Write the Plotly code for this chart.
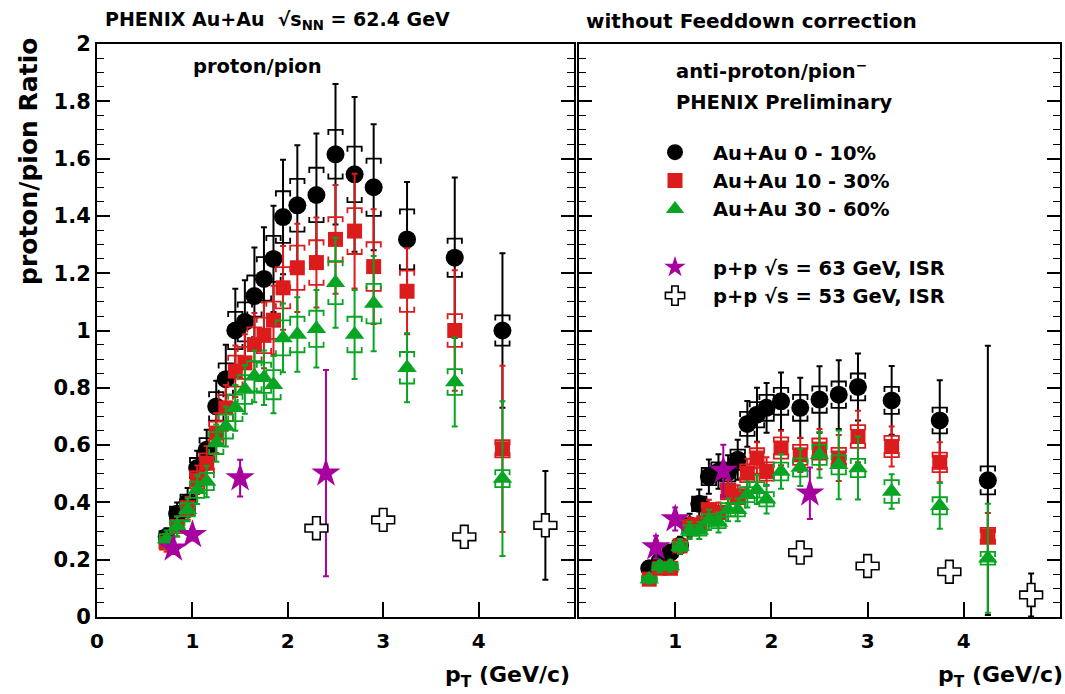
import numpy as np
import plotly.graph_objects as go

FONT = "DejaVu Sans"
BLACK = "#000000"
RED = "#dc1c1c"
GREEN = "#08a522"
MAGENTA = "#a8009f"

# ---------------- data ----------------
X_AU = [0.73, 0.84, 0.95, 1.05, 1.15, 1.25, 1.35, 1.45, 1.55, 1.65, 1.75,
        1.85, 1.95, 2.1, 2.3, 2.5, 2.7, 2.9, 3.25, 3.75, 4.25]

# proton/pion+ (left)
P_C0_Y = [0.28, 0.36, 0.40, 0.52, 0.584, 0.735, 0.83, 1.00, 1.03, 1.12, 1.18,
          1.25, 1.396, 1.437, 1.473, 1.615, 1.545, 1.50, 1.318, 1.254, 1.00]
P_C0_STAT = [0.03, 0.04, 0.05, 0.06, 0.07, 0.09, 0.12, 0.146, 0.145, 0.17, 0.18,
             0.185, 0.20, 0.21, 0.215, 0.245, 0.27, 0.22, 0.20, 0.28, 0.27]
P_C0_SYS = [0.02, 0.025, 0.027, 0.035, 0.04, 0.05, 0.055, 0.065, 0.068, 0.072, 0.076,
            0.08, 0.09, 0.092, 0.095, 0.085, 0.097, 0.10, 0.105, 0.067, 0.053]

P_C1_Y = [0.258, 0.316, 0.38, 0.479, 0.537, 0.642, 0.73, 0.858, 0.887, 0.951, 0.983,
          1.036, 1.149, 1.219, 1.237, 1.318, 1.347, 1.223, 1.137, 1.00, 0.587]
P_C1_STAT = [0.03, 0.035, 0.04, 0.05, 0.06, 0.07, 0.08, 0.09, 0.10, 0.11, 0.115,
             0.12, 0.146, 0.154, 0.157, 0.19, 0.20, 0.20, 0.15, 0.21, 0.29]
P_C1_SYS = [0.018, 0.02, 0.024, 0.03, 0.034, 0.04, 0.046, 0.054, 0.056, 0.06, 0.062,
            0.065, 0.072, 0.077, 0.078, 0.078, 0.08, 0.085, 0.072, 0.057, 0.03]

P_C2_Y = [0.272, 0.316, 0.374, 0.444, 0.473, 0.607, 0.665, 0.73, 0.794, 0.84, 0.835,
          0.811, 0.974, 0.986, 1.006, 1.167, 0.986, 1.094, 0.87, 0.82, 0.483]
P_C2_STAT = [0.03, 0.035, 0.04, 0.05, 0.055, 0.065, 0.07, 0.08, 0.085, 0.09, 0.095,
             0.10, 0.12, 0.13, 0.135, 0.157, 0.155, 0.166, 0.12, 0.155, 0.27]
P_C2_SYS = [0.017, 0.02, 0.023, 0.028, 0.03, 0.038, 0.042, 0.046, 0.05, 0.053, 0.053,
            0.051, 0.061, 0.062, 0.063, 0.075, 0.062, 0.069, 0.055, 0.045, 0.03]

# anti-proton/pion- (right)
A_C0_Y = [0.17, 0.195, 0.225, 0.25, 0.32, 0.395, 0.49, 0.508, 0.505, 0.549, 0.674,
          0.706, 0.73, 0.753, 0.73, 0.759, 0.776, 0.803, 0.756, 0.686, 0.477]
A_C0_STAT = [0.02, 0.02, 0.025, 0.03, 0.04, 0.05, 0.06, 0.06, 0.06, 0.07, 0.08,
             0.094, 0.087, 0.10, 0.105, 0.116, 0.12, 0.117, 0.12, 0.14, 0.47]
A_C0_SYS = [0.01, 0.012, 0.014, 0.016, 0.02, 0.025, 0.03, 0.032, 0.032, 0.035, 0.042,
            0.044, 0.045, 0.047, 0.045, 0.046, 0.046, 0.047, 0.047, 0.045, 0.049]

A_C1_Y = [0.132, 0.17, 0.17, 0.248, 0.316, 0.322, 0.374, 0.365, 0.438, 0.42, 0.502,
          0.555, 0.508, 0.59, 0.566, 0.586, 0.555, 0.63, 0.595, 0.54, 0.283]
A_C1_STAT = [0.015, 0.02, 0.02, 0.025, 0.03, 0.03, 0.035, 0.035, 0.04, 0.04, 0.05,
             0.055, 0.05, 0.06, 0.06, 0.07, 0.08, 0.09, 0.07, 0.07, 0.08]
A_C1_SYS = [0.01, 0.012, 0.012, 0.016, 0.02, 0.02, 0.023, 0.023, 0.027, 0.026, 0.031,
            0.034, 0.032, 0.037, 0.035, 0.037, 0.035, 0.04, 0.037, 0.034, 0.028]

A_C2_Y = [0.132, 0.176, 0.178, 0.246, 0.302, 0.302, 0.339, 0.33, 0.374, 0.374, 0.427,
          0.444, 0.411, 0.508, 0.522, 0.566, 0.531, 0.52, 0.438, 0.388, 0.205]
A_C2_STAT = [0.015, 0.02, 0.02, 0.025, 0.03, 0.03, 0.035, 0.035, 0.04, 0.04, 0.045,
             0.05, 0.05, 0.06, 0.065, 0.08, 0.12, 0.11, 0.06, 0.08, 0.19]
A_C2_SYS = [0.01, 0.012, 0.012, 0.015, 0.018, 0.018, 0.02, 0.02, 0.023, 0.023, 0.026,
            0.027, 0.025, 0.031, 0.032, 0.035, 0.033, 0.032, 0.04, 0.03, 0.022]

X_PP63 = [0.8, 1.0, 1.5, 2.4]
P_PP63_Y = [0.24, 0.287, 0.485, 0.502]
P_PP63_ERR = [0.02, 0.02, 0.064, 0.36]
A_PP63_Y = [0.244, 0.342, 0.511, 0.432]
A_PP63_ERR = [0.04, 0.04, 0.09, 0.09]

X_PP53 = [2.3, 3.0, 3.85, 4.7]
P_PP53_Y = [0.31, 0.339, 0.28, 0.32]
P_PP53_ERR = [0.0, 0.0, 0.0, 0.19]
A_PP53_Y = [0.225, 0.178, 0.158, 0.077]
A_PP53_ERR = [0.0, 0.0, 0.0, 0.075]

LEG_NAMES = ["Au+Au 0 - 10%", "Au+Au 10 - 30%", "Au+Au 30 - 60%",
             "p+p √s = 63 GeV, ISR", "p+p √s = 53 GeV, ISR"]

# ---------------- figure ----------------
fig = go.Figure()


def brackets(x, y, s, dx=0.075, h=0.018):
    xs, ys = [], []
    for xi, yi, si in zip(x, y, s):
        top, bot = yi + si, yi - si
        xs += [xi - dx, xi - dx, xi + dx, xi + dx, None,
               xi - dx, xi - dx, xi + dx, xi + dx, None]
        ys += [top - h, top, top, top - h, None,
               bot + h, bot, bot, bot + h, None]
    return xs, ys


def add_series(x, y, stat, sys, color, symbol, size, name, group, xa, ya, legend,
               fill=None, lcolor=None, lwidth=0):
    if sys is not None:
        bx, by = brackets(x, y, sys)
        fig.add_trace(go.Scatter(x=bx, y=by, mode="lines", xaxis=xa, yaxis=ya,
                                 line=dict(color=color, width=1.8),
                                 showlegend=False, hoverinfo="skip"))
    fig.add_trace(go.Scatter(
        x=x, y=y, mode="markers", xaxis=xa, yaxis=ya, name=name,
        legendgroup=group, showlegend=legend,
        marker=dict(symbol=symbol, size=size, color=fill or color,
                    line=dict(color=lcolor or color, width=lwidth)),
        error_y=dict(type="data", array=stat, color=color if lcolor is None else lcolor,
                     thickness=2, width=3)))


for xa, ya, leg, data in [
    ("x", "y", True, [(P_C0_Y, P_C0_STAT, P_C0_SYS), (P_C1_Y, P_C1_STAT, P_C1_SYS),
                      (P_C2_Y, P_C2_STAT, P_C2_SYS), (P_PP63_Y, P_PP63_ERR),
                      (P_PP53_Y, P_PP53_ERR)]),
    ("x2", "y2", False, [(A_C0_Y, A_C0_STAT, A_C0_SYS), (A_C1_Y, A_C1_STAT, A_C1_SYS),
                         (A_C2_Y, A_C2_STAT, A_C2_SYS), (A_PP63_Y, A_PP63_ERR),
                         (A_PP53_Y, A_PP53_ERR)]),
]:
    add_series(X_AU, data[0][0], data[0][1], data[0][2], BLACK, "circle", 18,
               LEG_NAMES[0], "auau", xa, ya, leg)
    add_series(X_AU, data[1][0], data[1][1], data[1][2], RED, "square", 15,
               LEG_NAMES[1], "auau", xa, ya, leg)
    add_series(X_AU, data[2][0], data[2][1], data[2][2], GREEN, "triangle-up", 17,
               LEG_NAMES[2], "auau", xa, ya, leg)
    add_series(X_PP63, data[3][0], data[3][1], None, MAGENTA, "star", 22,
               LEG_NAMES[3], "pp", xa, ya, leg)
    add_series(X_PP53, data[4][0], data[4][1], None, BLACK, "cross", 19,
               LEG_NAMES[4], "pp", xa, ya, leg, fill="white", lcolor=BLACK, lwidth=1.6)

W, H = 1065, 694
XL = [97 / W, 574 / W]
XR = [579 / W, 1060 / W]
YD = [1 - 617 / H, 1 - 44 / H]

xtickfont = dict(family=FONT, size=20, color="black", weight="bold")
ytickfont = dict(family=FONT, size=21, color="black", weight="bold")
xcommon = dict(range=[0, 5], ticks="inside", ticklen=15, tickwidth=1.5,
               tickcolor="black", showline=True, linewidth=2, linecolor="black",
               mirror=True, showgrid=False, zeroline=False, tickfont=xtickfont,
               ticklabelstandoff=5, automargin=False)
ycommon = dict(range=[0, 2], dtick=0.2, tick0=0, ticks="inside", ticklen=13,
               tickwidth=1.5, tickcolor="black", showline=True, linewidth=2,
               linecolor="black", mirror="ticks", showgrid=False, zeroline=False,
               tickfont=ytickfont, ticklabelstandoff=0, automargin=False,
               minor=dict(ticks="inside", ticklen=7, dtick=0.05, tickwidth=1.2,
                          tickcolor="black", showgrid=False))

fig.update_layout(
    width=W, height=H, margin=dict(l=0, r=0, t=0, b=0, autoexpand=False),
    paper_bgcolor="white", plot_bgcolor="white",
    xaxis=dict(domain=XL, anchor="y", tickvals=[0, 1, 2, 3, 4], **xcommon),
    xaxis2=dict(domain=XR, anchor="y2", tickvals=[1, 2, 3, 4, 5], **xcommon),
    yaxis=dict(domain=YD, anchor="x", **ycommon),
    yaxis2=dict(domain=YD, anchor="x2", showticklabels=False, **ycommon),
    legend=dict(x=637 / W, y=1 - 133 / H, xanchor="left", yanchor="top",
                font=dict(family=FONT, size=19.5, color="black", weight="bold"),
                bgcolor="rgba(0,0,0,0)", traceorder="grouped", tracegroupgap=30,
                itemwidth=66),
    showlegend=True,
)


def ann(text, x, y, size, xanchor="left", angle=0):
    fig.add_annotation(text=text, x=x / W, y=1 - y / H, xref="paper", yref="paper",
                       showarrow=False, xanchor=xanchor, yanchor="middle",
                       textangle=angle,
                       font=dict(family=FONT, size=size, color="black", weight="bold"))


ann("PHENIX Au+Au\u00a0\u00a0√s<sub>NN</sub> = 62.4 GeV", 103, 21, 19)
ann("without Feeddown correction", 584, 21, 20)
ann("proton/pion", 191, 66, 19.5)
ann("anti-proton/pion<sup>−</sup>", 674, 70, 19.5)
ann("PHENIX Preliminary", 674, 102, 19.5)
ann("proton/pion Ratio", 28, 162, 25, xanchor="center", angle=-90)
ann("p<sub>T</sub> (GeV/c)", 572, 676, 22, xanchor="right")
ann("p<sub>T</sub> (GeV/c)", 1065, 676, 22, xanchor="right")

fig.write_html("out.html")
